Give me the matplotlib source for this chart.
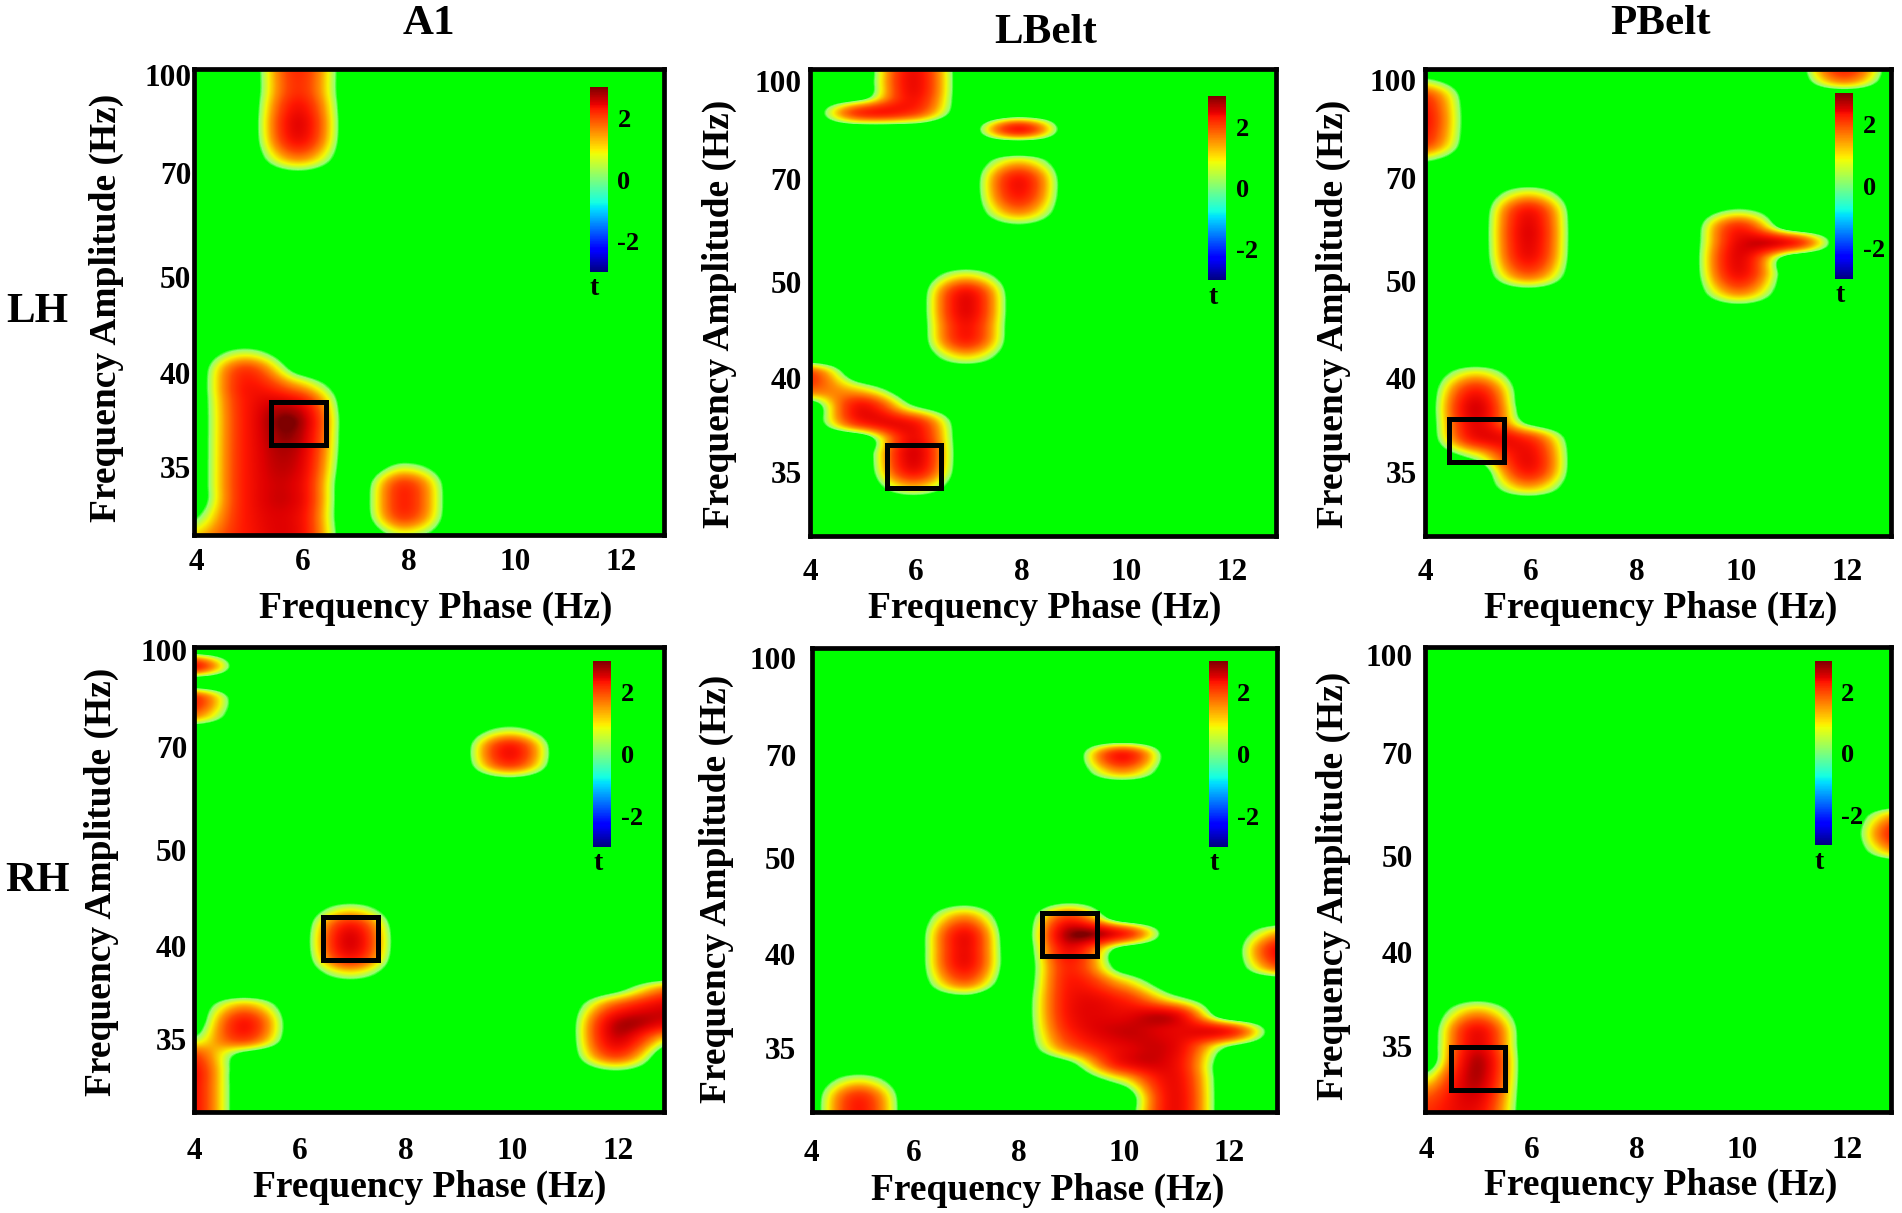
import matplotlib
matplotlib.use('Agg')
import matplotlib.pyplot as plt
import numpy as np
from matplotlib.cm import ScalarMappable
from matplotlib.colors import LinearSegmentedColormap, Normalize
from matplotlib.patches import Rectangle

plt.rcParams['font.family'] = ['Liberation Serif', 'DejaVu Serif']
plt.rcParams['font.weight'] = 'bold'

W, H = 1902, 1213
S = W / 1568.0  # coordenadas leidas sobre la imagen a 1568 px de ancho

phases = [4, 5, 6, 7, 8, 9, 10, 11, 12, 13]
x_ticks = [4, 6, 8, 10, 12]
y_ticks = ['35', '40', '50', '70', '100']
y_tick_rows = [2, 4.88, 7.84, 11, 14]
cbar_ticks = [-2, 0, 2]

# cada entrada: (fase, fila mas baja, valores t subiendo de media en media fila)
a1_lh = [
    (6, 11, [0.4, 1.5, 2.3, 2.5, 2.3, 2.0, 2.0, 2.1, 2.1, 2.2, 2.2]),
    (5, -1, [2.2, 2.2, 2.2, 2.2, 2.2, 2.2, 2.2, 2.2, 2.2, 2.2, 2.2, 2.2, 1.9, 0.8]),
    (6, -1, [2.3, 2.3, 2.4, 2.4, 2.5, 2.5, 2.6, 2.7, 2.85, 2.9, 2.4, 1.3, 0.3]),
    (4, -0.5, [1.6, 1.0, 0.4]),
    (8, 0, [0.9, 1.9, 2.1, 1.9, 0.8]),
]
lbelt_lh = [
    (6, 13, [1.9, 2.3, 2.4, 2.3, 2.2]),
    (5, 13, [2.0, 0.2]),
    (8, 12.5, [2.2]),
    (8, 9.5, [0.4, 1.5, 2.2, 2.2, 1.1]),
    (7, 5.5, [1.0, 2.1, 2.3, 2.5, 2.3, 1.0]),
    (4, 4.5, [1.6, 1.9]),
    (5, 3.5, [2.1, 2.3, 1.1]),
    (6, 1.5, [1.1, 2.3, 2.6, 2.4, 2.2, 0.6]),
]
pbelt_lh = [
    (4, 11.5, [0.6, 1.9, 2.3, 2.3, 1.9, 0.6]),
    (12, 14, [1.6, 2.3, 2.4]),
    (6, 7.5, [0.3, 1.6, 2.3, 2.5, 2.5, 2.2, 1.0]),
    (10, 7, [0.3, 1.5, 2.3, 2.5, 2.5, 2.0, 0.6]),
    (11, 9, [2.2]),
    (5, 2.5, [0.9, 2.3, 2.5, 2.6, 2.1, 1.0]),
    (6, 1.5, [1.2, 2.2, 2.4, 2.0, 0.4]),
]
a1_rh = [
    (4, 13.5, [2.3]),
    (4, 12, [1.6, 2.1]),
    (10, 10, [0.4, 2.0, 2.2, 0.8]),
    (7, 4, [0.9, 2.2, 2.6, 2.2, 0.9]),
    (5, 1.5, [0.3, 1.9, 2.2, 1.3]),
    (4, -1, [2.4, 2.4, 2.4, 2.4, 2.4, 1.9, 0.6]),
    (12, 1, [0.5, 1.9, 2.6, 2.7, 1.8, 0.4]),
    (13, 2, [1.0, 2.5, 2.6, 1.6]),
]
lbelt_rh = [
    (10, 10.5, [1.4, 2.2]),
    (7, 3.5, [0.3, 1.6, 2.3, 2.4, 2.3, 1.4, 0.3]),
    (9, 1.5, [0.4, 1.6, 2.1, 2.3, 2.3, 2.2, 2.1, 2.4, 2.9, 1.9, 0.4]),
    (10, 1, [0.9, 2.3, 2.5, 2.7, 2.5, 2.1, 1.2, 0.2, 0.2, 2.2]),
    (11, -1, [2.3, 2.4, 2.4, 2.4, 2.4, 2.4, 2.5, 2.5, 2.5, 0.8]),
    (12, 2, [0.5, 2.2]),
    (13, 4.5, [1.8, 2.4, 1.3]),
    (5, -0.5, [2.2, 2.2, 2.0, 0.9]),
]
pbelt_rh = [
    (5, -1, [2.3, 2.3, 2.4, 2.6, 2.8, 2.8, 2.5, 2.3, 1.3, 0.3]),
    (4, -1, [2.0, 2.0, 2.0, 1.6, 0.8]),
    (13, 8, [1.5, 2.3, 1.5]),
]

# recuadros negros: fase central y fila central
box_phase = [6, 6, 5, 7, 9, 5]
box_row = [3.35, 2.17, 2.95, 5.1, 5.5, 1.31]

panels = [a1_lh, lbelt_lh, pbelt_lh, a1_rh, lbelt_rh, pbelt_rh]
# izquierda, derecha, arriba, abajo
axes_box = [(160, 547, 57, 441), (668, 1052, 57, 442), (1175, 1559, 57, 442),
            (160, 547, 533, 917), (669, 1053, 534, 917), (1175, 1559, 533, 917)]
cbar_box = [(486, 501, 72, 224), (996, 1011, 79, 231), (1513, 1528, 77, 230),
            (489, 504, 545, 698), (997, 1012, 545, 698), (1496, 1510, 545, 697)]
row_lims = [(-0.07, 14.19), (0.02, 14.37), (0.02, 14.34),
            (-0.26, 14.11), (0.02, 14.3), (-0.05, 14.26)]
phase_low = [4.03, 4.03, 4.03, 4.05, 4.1, 4.0]
xtick_shift = [0.08, 0.04, 0.04, 0.05, 0.04, 0.02]
xtick_pad = [9.6, 15.5, 15.5, 17.5, 19, 17]
ytick_pad = [2, 6, 6, 5, 11, 9]
xlabel_pos = [(359, 502), (861, 502), (1369, 502), (354, 979), (864, 981), (1369, 977)]
ylabel_pos = [(88, 254), (593, 259), (1099, 259), (84, 727), (591, 733), (1099, 730)]
titles = [('A1', 354, 20), ('LBelt', 862, 27), ('PBelt', 1369, 20)]
sides = [('LH', 31, 257), ('RH', 31, 726)]

row_start, row_stop = -1.0, 18.0
n_rows = int((row_stop - row_start) * 2) + 1

# el fondo verde puro y el borde palido no son parte del jet de la barra
jet = plt.get_cmap('jet')
norm = Normalize(-3, 3)
nodes = [(0.0, (0, 1, 0)), (float(norm(0.5)), (0, 1, 0)), (float(norm(0.62)), (0.6, 1, 0.45))]
for v, c in [(0.95, 0.87), (1.35, 1.5), (1.8, 2.0), (2.2, 2.3), (2.6, 2.5), (2.9, 2.8), (3.0, 3.0)]:
    nodes.append((float(norm(v)), jet(norm(c))))
image_cmap = LinearSegmentedColormap.from_list('tmap', nodes, N=1024)


def fx(v):
    return v * S / W


def fy(v):
    return 1 - v * S / H


fig = plt.figure(figsize=(W / 100, H / 100), dpi=100, facecolor='white')

for i, cols in enumerate(panels):
    l, r, t, b = axes_box[i]
    ax = fig.add_axes([fx(l), fy(b), fx(r) - fx(l), fy(t) - fy(b)])

    cells = np.zeros((n_rows, len(phases)))
    for phase, first, vals in cols:
        j0 = int(round((first - row_start) * 2))
        cells[j0:j0 + len(vals), phases.index(phase)] = vals

    ax.imshow(cells, origin='lower', aspect='auto', cmap=image_cmap, norm=norm,
              interpolation='catrom',
              extent=(3.5, 13.5, row_start - 0.25, row_stop + 0.25))
    ax.set_xlim(phase_low[i], phase_low[i] + 8.85)
    ax.set_ylim(*row_lims[i])
    ax.set_xticks([max(v + xtick_shift[i], phase_low[i]) for v in x_ticks])
    ax.set_xticklabels([str(v) for v in x_ticks])
    ax.set_yticks(y_tick_rows)
    ax.set_yticklabels(y_ticks)
    ax.tick_params(axis='x', length=0, pad=xtick_pad[i], labelsize=22.5)
    ax.tick_params(axis='y', length=0, pad=ytick_pad[i], labelsize=22.5)
    for sp in ax.spines.values():
        sp.set_linewidth(3.4)

    ax.add_patch(Rectangle((box_phase[i] - 0.52, box_row[i] - 0.66), 1.04, 1.32,
                           fill=False, edgecolor='black', linewidth=3.6, zorder=5))

    x, y = xlabel_pos[i]
    fig.text(fx(x), fy(y), 'Frequency Phase (Hz)', ha='center', va='center', fontsize=27)
    x, y = ylabel_pos[i]
    fig.text(fx(x), fy(y), 'Frequency Amplitude (Hz)', ha='center', va='center',
             rotation=90, fontsize=27)

    l, r, t, b = cbar_box[i]
    cax = fig.add_axes([fx(l), fy(b), fx(r) - fx(l), fy(t) - fy(b)])
    cb = fig.colorbar(ScalarMappable(norm=norm, cmap=jet), cax=cax, ticks=cbar_ticks)
    cb.outline.set_visible(False)
    cb.ax.tick_params(length=0, pad=7, labelsize=19)
    cb.ax.set_yticklabels(['-2', '0', '2'])
    fig.text(fx(l + 4), fy(b + 14), 't', ha='center', va='center', fontsize=20)

for name, x, y in titles:
    fig.text(fx(x), fy(y), name, ha='center', va='center', fontsize=31)
for name, x, y in sides:
    fig.text(fx(x), fy(y), name, ha='center', va='center', fontsize=31)

fig.savefig('out.png', dpi=100)
